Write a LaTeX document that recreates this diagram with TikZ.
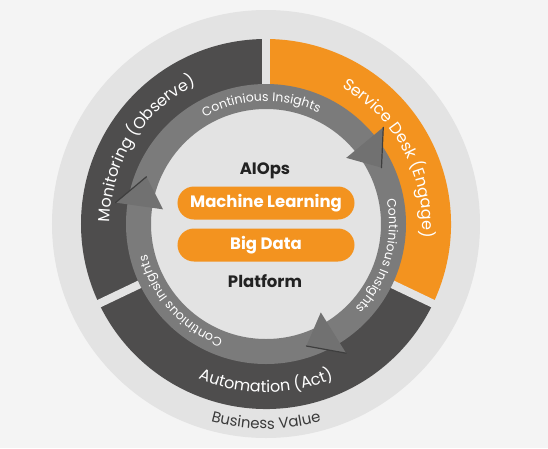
\documentclass[tikz,border=0pt]{standalone}
\usepackage{fontspec}
\setmainfont{Poppins}
\usetikzlibrary{decorations.text}
\definecolor{bgc}{HTML}{F4F4F4}
\definecolor{discc}{HTML}{E3E3E3}
\definecolor{darkc}{HTML}{4E4D4D}
\definecolor{orangec}{HTML}{F3931F}
\definecolor{bandc}{HTML}{7B7B7B}
\definecolor{headc}{HTML}{717171}
\definecolor{shadc}{HTML}{3E3E3E}
\definecolor{txtc}{HTML}{222222}
\definecolor{bvc}{HTML}{3A3A3A}
\tikzset{
  pill/.style={fill=orangec, rounded corners=16.5pt, minimum width=177pt, minimum height=33pt,
    inner sep=0pt, text=white, font=\bfseries\fontsize{16.5}{18}\selectfont},
  centertext/.style={text=txtc, inner sep=0pt, font=\bfseries\fontsize{16.5}{18}\selectfont},
  arrowhd/.style={fill=headc},
  headedge/.style={draw=shadc, line width=1.2pt, line cap=round},
  gapline/.style={draw=discc, line width=8pt},
  bandtext/.style={decorate, decoration={text along path, text align=center, text color=white,
    text={|\fontsize{12.5}{14}\selectfont|Continious Insights}}},
  ringtext/.style={decorate, decoration={text along path, text align=center, text color=white,
    text={|\fontsize{16}{18}\selectfont|#1}}},
  bvtext/.style={decorate, decoration={text along path, text align=center, text color=bvc,
    text={|\fontsize{15}{17}\selectfont|#1}}}
}
\begin{document}
\begin{tikzpicture}[x=1pt,y=1pt]
\fill[bgc] (-266,-224) rectangle (282,224);
\useasboundingbox (-266,-224) rectangle (282,224);
% outer light disc
\fill[discc] (0,0) circle (214);
% ring segments
\fill[darkc] (90:185) arc[start angle=90,end angle=205.5,radius=185] -- (205.5:136) arc[start angle=205.5,end angle=90,radius=136] -- cycle;
\fill[orangec] (-25.5:185) arc[start angle=-25.5,end angle=90,radius=185] -- (90:136) arc[start angle=90,end angle=-25.5,radius=136] -- cycle;
\fill[darkc] (205.5:185) arc[start angle=205.5,end angle=334.5,radius=185] -- (334.5:136) arc[start angle=334.5,end angle=205.5,radius=136] -- cycle;
% gaps
\foreach \a in {90,-25.5,205.5} \draw[gapline] (\a:132) -- (\a:190);
% arrow band
\draw[bandc, line width=25pt] (0,0) circle (127.5);
% arrowheads (clockwise)
\foreach \t in {26,-71.7,158.4} {
  \pgfmathsetmacro{\b}{\t+13.5}
  \fill[arrowhd] (\t:128.5) -- (\b:152) -- (\b:104) -- cycle;
  \draw[headedge] (\t:128.5) -- (\b:152);
}
% arrow band texts
\path[bandtext] (142.3:123) arc[start angle=142.3,end angle=42.3,radius=123];
\path[bandtext] (34:123) arc[start angle=34,end angle=-66,radius=123];
\path[bandtext] (272:123) arc[start angle=272,end angle=172,radius=123];
% ring texts
\path[ringtext={Monitoring (Observe)}] (208:156) arc[start angle=208,end angle=88,radius=156];
\path[ringtext={Service Desk (Engage)}] (88:156) arc[start angle=88,end angle=-32,radius=156];
\path[ringtext={Automation (Act)}] (215:168.5) arc[start angle=215,end angle=325,radius=168.5];
\path[bvtext={Business Value}] (230:205) arc[start angle=230,end angle=310,radius=205];
% center
\node[centertext] (aiops) at (-1,53) {AIOps};
\node[pill] (ml) at (0,21) {Machine Learning};
\node[pill] (bd) at (0,-21) {Big Data};
\node[centertext] (platform) at (-1,-57) {Platform};
\end{tikzpicture}
\end{document}
